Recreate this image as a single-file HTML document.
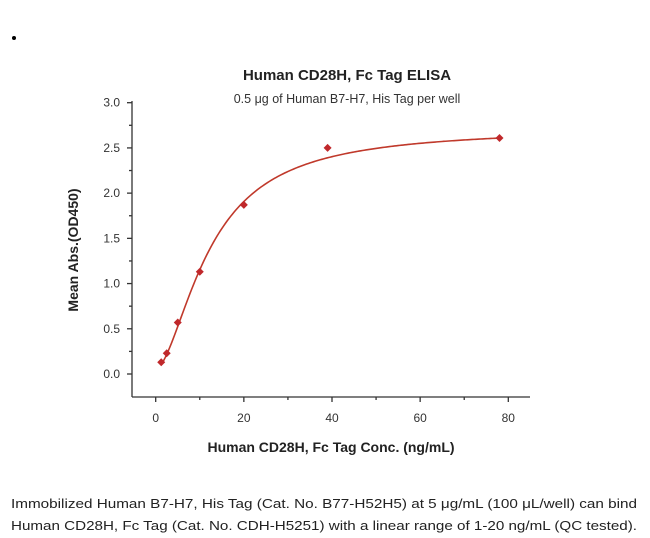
<!DOCTYPE html>
<html><head><meta charset="utf-8"><style>
html,body{margin:0;padding:0;background:#fff;width:650px;height:538px;overflow:hidden}
svg{display:block;font-family:"Liberation Sans",sans-serif}
</style></head><body>
<svg id="chart" width="650" height="538">
<circle cx="14" cy="38" r="2" fill="#000"/>
<text x="347" y="80" text-anchor="middle" font-size="15" font-weight="bold" fill="#222">Human CD28H, Fc Tag ELISA</text>
<text x="347" y="103" text-anchor="middle" font-size="12.5" fill="#333">0.5 μg of Human B7-H7, His Tag per well</text>
<g id="axes"></g>
<g id="marks"></g>
<text x="0" y="0" transform="translate(78,250) rotate(-90)" text-anchor="middle" font-size="14" font-weight="bold" fill="#222">Mean Abs.(OD450)</text>
<text x="331" y="452" text-anchor="middle" font-size="14" font-weight="bold" fill="#222">Human CD28H, Fc Tag Conc. (ng/mL)</text>
<text x="11" y="508" font-size="13" fill="#222" textLength="626" lengthAdjust="spacingAndGlyphs">Immobilized Human B7-H7, His Tag (Cat. No. B77-H52H5) at 5 μg/mL (100 μL/well) can bind</text>
<text x="11" y="530" font-size="13" fill="#222" textLength="626" lengthAdjust="spacingAndGlyphs">Human CD28H, Fc Tag (Cat. No. CDH-H5251) with a linear range of 1-20 ng/mL (QC tested).</text>
</svg>
<script>
const concentrations=[1.25,2.5,5,10,20,39,78];
const absorbances=[0.13,0.23,0.57,1.13,1.87,2.5,2.61];
const xTickValues=[0,20,40,60,80];
const xTickLabels=["0","20","40","60","80"];
const yTickValues=[0,0.5,1,1.5,2,2.5,3];
const yTickLabels=["0.0","0.5","1.0","1.5","2.0","2.5","3.0"];
const fitParams=[0.05,2.72,12.3,1.7]; // bottom, top, EC50, hill
const NS="http://www.w3.org/2000/svg";
const X0=132,XEND=530,YBOT=397,YTOP=101;
function xs(v){return 155.7+v*(508.3-155.7)/80;}
function ys(v){return 374-v*(374-102.7)/3;}
function mk(tag,attrs,parent){const e=document.createElementNS(NS,tag);for(const k in attrs)e.setAttribute(k,attrs[k]);parent.appendChild(e);return e;}
const axes=document.getElementById('axes'),marks=document.getElementById('marks');
const st={stroke:"#333","stroke-width":1.3};
let l=mk('line',Object.assign({x1:X0,y1:YBOT,x2:XEND,y2:YBOT},st),axes);


l=mk('line',Object.assign({x1:X0,y1:YTOP,x2:X0,y2:YBOT},st),axes);


for(let v=0;v<=80;v+=10){const major=v%20===0;
 const t=mk('line',Object.assign({x1:xs(v),y1:YBOT,x2:xs(v),y2:YBOT+(major?5:3)},st),axes);
 
 }
xTickValues.forEach((v,i)=>{const t=mk('text',{x:xs(v),y:YBOT+25,"text-anchor":"middle","font-size":12,fill:"#333"},axes);t.textContent=xTickLabels[i];
 
 });
for(let v=0;v<=3.0001;v+=0.25){const major=Math.abs(v*2-Math.round(v*2))<1e-6;
 const t=mk('line',Object.assign({x1:X0-(major?5:3),y1:ys(v),x2:X0,y2:ys(v)},st),axes);
 
 }
yTickValues.forEach((v,i)=>{const t=mk('text',{x:X0-12,y:ys(v)+4,"text-anchor":"end","font-size":12,fill:"#333"},axes);t.textContent=yTickLabels[i];
 
 });
function fit(x){const[a,b,c,n]=fitParams;const p=Math.pow(x,n);return a+(b-a)*p/(Math.pow(c,n)+p);}
let d="";const xmin=concentrations[0],xmax=concentrations[concentrations.length-1];
for(let i=0;i<=200;i++){const x=xmin+(xmax-xmin)*i/200;d+=(i?"L":"M")+xs(x).toFixed(2)+","+ys(fit(x)).toFixed(2);}
const p=mk('path',{d:d,fill:"none",stroke:"#c0392b","stroke-width":1.6},marks);


concentrations.forEach((c,i)=>{const cx=xs(c),cy=ys(absorbances[i]),r=4;
 const q=mk('polygon',{points:`${cx},${cy-r} ${cx+r},${cy} ${cx},${cy+r} ${cx-r},${cy}`,fill:"#c0282b"},marks);
 
 });
</script>
</body></html>
